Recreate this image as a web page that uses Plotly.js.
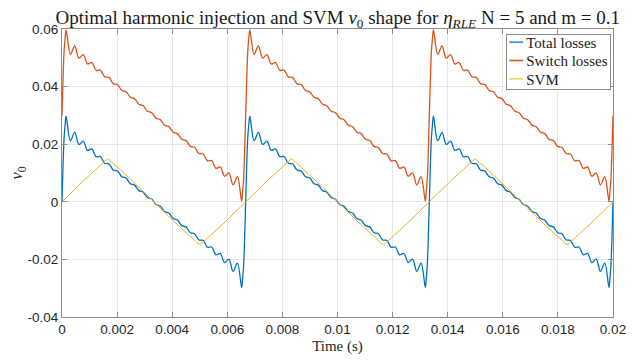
<!DOCTYPE html>
<html>
<head>
<meta charset="utf-8">
<script src="https://cdn.plot.ly/plotly-3.0.1.min.js"></script>
<style>
  html, body { margin: 0; padding: 0; background: #fff; }
  #chart { width: 641px; height: 360px; }
</style>
</head>
<body>
<div id="chart"></div>
<script>
// Time samples (ms)
const timeMs = [
  0, 0.0375, 0.075, 0.1125,
  0.150, 0.305, 0.461, 0.616, 0.772, 0.927, 1.082, 1.238, 1.393, 1.549, 1.704, 1.859, 2.015, 2.170,
  2.326, 2.481, 2.636, 2.792, 2.947, 3.103, 3.258, 3.413, 3.569, 3.724, 3.880, 4.035, 4.190, 4.346,
  4.501, 4.657, 4.812, 4.967, 5.123, 5.278, 5.434, 5.589, 5.744, 5.900, 6.055, 6.211, 6.366, 6.521,
  6.554, 6.592, 6.629, 6.667, 6.704, 6.742, 6.779,
  6.817, 6.972, 7.128, 7.283, 7.439, 7.594, 7.749, 7.905, 8.060, 8.216, 8.371, 8.526, 8.682, 8.837,
  8.993, 9.148, 9.303, 9.459, 9.614, 9.770, 9.925, 10.080, 10.236, 10.391, 10.547, 10.702, 10.857, 11.013,
  11.168, 11.324, 11.479, 11.634, 11.790, 11.945, 12.101, 12.256, 12.411, 12.567, 12.722, 12.878, 13.033, 13.188,
  13.221, 13.258, 13.296, 13.333, 13.371, 13.408, 13.446,
  13.483, 13.638, 13.794, 13.949, 14.105, 14.260, 14.415, 14.571, 14.726, 14.882, 15.037, 15.192, 15.348, 15.503,
  15.659, 15.814, 15.969, 16.125, 16.280, 16.436, 16.591, 16.746, 16.902, 17.057, 17.213, 17.368, 17.523, 17.679,
  17.834, 17.990, 18.145, 18.300, 18.456, 18.611, 18.767, 18.922, 19.077, 19.233, 19.388, 19.544, 19.699, 19.854,
  19.888, 19.925, 19.963, 20.000
];

const totalLosses = [
  0, 0.0125, 0.0221, 0.0266,
  0.02973, 0.02122, 0.0241, 0.0199, 0.02108, 0.01787, 0.01836, 0.01564, 0.01573, 0.01337, 0.01321, 0.01104, 0.01071, 0.00867,
  0.00824, 0.00629, 0.00579, 0.00388, 0.00334, 0.00147, 0.00091, -0.00094, -0.00151, -0.00338, -0.00392, -0.00582, -0.00632, -0.00828,
  -0.00871, -0.01075, -0.01107, -0.01324, -0.01341, -0.01577, -0.01569, -0.0184, -0.0179, -0.02112, -0.01993, -0.02415, -0.02126, -0.02976,
  -0.0266, -0.0221, -0.0125, 0, 0.0125, 0.0221, 0.0266,
  0.02973, 0.02122, 0.0241, 0.0199, 0.02108, 0.01787, 0.01836, 0.01564, 0.01573, 0.01337, 0.01321, 0.01104, 0.01071, 0.00867,
  0.00824, 0.00629, 0.00579, 0.00388, 0.00334, 0.00147, 0.00091, -0.00094, -0.00151, -0.00338, -0.00392, -0.00582, -0.00632, -0.00828,
  -0.00871, -0.01075, -0.01107, -0.01324, -0.01341, -0.01577, -0.01569, -0.0184, -0.0179, -0.02112, -0.01993, -0.02415, -0.02126, -0.02976,
  -0.0266, -0.0221, -0.0125, 0, 0.0125, 0.0221, 0.0266,
  0.02973, 0.02122, 0.0241, 0.0199, 0.02108, 0.01787, 0.01836, 0.01564, 0.01573, 0.01337, 0.01321, 0.01104, 0.01071, 0.00867,
  0.00824, 0.00629, 0.00579, 0.00388, 0.00334, 0.00147, 0.00091, -0.00094, -0.00151, -0.00338, -0.00392, -0.00582, -0.00632, -0.00828,
  -0.00871, -0.01075, -0.01107, -0.01324, -0.01341, -0.01577, -0.01569, -0.0184, -0.0179, -0.02112, -0.01993, -0.02415, -0.02126, -0.02976,
  -0.0266, -0.0221, -0.0125, 0
];

const switchLosses = [
  0.03, 0.0425, 0.0521, 0.0566,
  0.05973, 0.05122, 0.0541, 0.0499, 0.05108, 0.04787, 0.04836, 0.04564, 0.04573, 0.04337, 0.04321, 0.04104, 0.04071, 0.03867,
  0.03824, 0.03629, 0.03579, 0.03388, 0.03334, 0.03147, 0.03091, 0.02906, 0.02849, 0.02662, 0.02608, 0.02418, 0.02368, 0.02172,
  0.02129, 0.01925, 0.01893, 0.01676, 0.01659, 0.01423, 0.01431, 0.0116, 0.0121, 0.00888, 0.01007, 0.00585, 0.00874, 0.00024,
  0.0034, 0.0079, 0.0175, 0.03, 0.0425, 0.0521, 0.0566,
  0.05973, 0.05122, 0.0541, 0.0499, 0.05108, 0.04787, 0.04836, 0.04564, 0.04573, 0.04337, 0.04321, 0.04104, 0.04071, 0.03867,
  0.03824, 0.03629, 0.03579, 0.03388, 0.03334, 0.03147, 0.03091, 0.02906, 0.02849, 0.02662, 0.02608, 0.02418, 0.02368, 0.02172,
  0.02129, 0.01925, 0.01893, 0.01676, 0.01659, 0.01423, 0.01431, 0.0116, 0.0121, 0.00888, 0.01007, 0.00585, 0.00874, 0.00024,
  0.0034, 0.0079, 0.0175, 0.03, 0.0425, 0.0521, 0.0566,
  0.05973, 0.05122, 0.0541, 0.0499, 0.05108, 0.04787, 0.04836, 0.04564, 0.04573, 0.04337, 0.04321, 0.04104, 0.04071, 0.03867,
  0.03824, 0.03629, 0.03579, 0.03388, 0.03334, 0.03147, 0.03091, 0.02906, 0.02849, 0.02662, 0.02608, 0.02418, 0.02368, 0.02172,
  0.02129, 0.01925, 0.01893, 0.01676, 0.01659, 0.01423, 0.01431, 0.0116, 0.0121, 0.00888, 0.01007, 0.00585, 0.00874, 0.00024,
  0.0034, 0.0079, 0.0175, 0.03
];

const svmTimeMs = [0, 0.833, 1.667, 2.5, 3.333, 4.167, 5.0, 5.833, 6.667, 7.5, 8.333, 9.167, 10.0,
                   10.833, 11.667, 12.5, 13.333, 14.167, 15.0, 15.833, 16.667, 17.5, 18.333, 19.167, 20.0];
const svm = [0, 0.00776, 0.015, 0.00776, 0, -0.00776, -0.015, -0.00776, 0, 0.00776, 0.015, 0.00776, 0,
             -0.00776, -0.015, -0.00776, 0, 0.00776, 0.015, 0.00776, 0, -0.00776, -0.015, -0.00776, 0];

const seriesNames = ['Total losses', 'Switch losses', 'SVM'];
const seriesColors = ['#0072BD', '#D95319', '#EDB120'];

const xTickVals = [0, 0.002, 0.004, 0.006, 0.008, 0.01, 0.012, 0.014, 0.016, 0.018, 0.02];
const xTickText = ['0', '0.002', '0.004', '0.006', '0.008', '0.01', '0.012', '0.014', '0.016', '0.018', '0.02'];
const yTickVals = [-0.04, -0.02, 0, 0.02, 0.04, 0.06];
const yTickText = ['-0.04', '-0.02', '0', '0.02', '0.04', '0.06'];

const toSec = a => a.map(t => t / 1000);
const tSec = toSec(timeMs);
const tSvm = toSec(svmTimeMs);

const traces = [
  { x: tSec, y: totalLosses, name: seriesNames[0], type: 'scatter', mode: 'lines',
    line: { color: seriesColors[0], width: 1.3, shape: 'spline', smoothing: 1 } },
  { x: tSec, y: switchLosses, name: seriesNames[1], type: 'scatter', mode: 'lines',
    line: { color: seriesColors[1], width: 1.3, shape: 'spline', smoothing: 1 } },
  { x: tSvm, y: svm, name: seriesNames[2], type: 'scatter', mode: 'lines',
    line: { color: seriesColors[2], width: 1.0 } }
];

const axisCommon = {
  showgrid: true, gridcolor: '#e6e6e6', gridwidth: 1,
  zeroline: false, showline: true, linecolor: '#8c8c8c', linewidth: 1,
  mirror: 'ticks', ticks: 'inside', ticklen: 5, tickcolor: '#8c8c8c',
  tickfont: { family: 'Liberation Sans, Arial, sans-serif', size: 13.5, color: '#262626' },
  fixedrange: true
};

const layout = {
  width: 641, height: 360,
  margin: { l: 62, r: 28, t: 29, b: 43 },
  paper_bgcolor: '#ffffff', plot_bgcolor: '#ffffff',
  showlegend: true,
  title: {
    text: 'Optimal harmonic injection and SVM <i>v</i><sub>0</sub> shape for <i>η</i><sub><i>RLE</i></sub> N = 5 and m = 0.1',
    font: { family: 'Liberation Serif, serif', size: 19, color: '#1a1a1a' },
    x: 0.527, xanchor: 'center', y: 0.953, yanchor: 'middle'
  },
  xaxis: Object.assign({}, axisCommon, {
    range: [0, 0.02], tickvals: xTickVals, ticktext: xTickText,
    title: { text: 'Time (s)', font: { family: 'Liberation Serif, serif', size: 15, color: '#262626' }, standoff: 4 }
  }),
  yaxis: Object.assign({}, axisCommon, {
    range: [-0.04, 0.06], tickvals: yTickVals, ticktext: yTickText,
    title: { text: '<i>v</i><sub>0</sub>', font: { family: 'Liberation Serif, serif', size: 17, color: '#262626' }, standoff: 0 }
  }),
  legend: {
    x: 0.9933, xanchor: 'right', y: 0.985, yanchor: 'top',
    bgcolor: '#ffffff', bordercolor: '#8c8c8c', borderwidth: 1,
    font: { family: 'Liberation Serif, serif', size: 15, color: '#1a1a1a' },
    tracegroupgap: 0, itemwidth: 30
  }
};

Plotly.newPlot('chart', traces, layout, { staticPlot: true, displayModeBar: false }).then(gd => {
  // MATLAB-like compact legend: short line samples, tight rows
  const boxRight = 609.5, boxTop = 33.5, rowGap = 18.4, firstRow = 8.6, lineStart = 2, lineLen = 14, textX = 19;
  const items = Array.from(gd.querySelectorAll('g.legend .traces'));
  let maxRight = 0;
  items.forEach((g, i) => {
    const p = g.querySelector('path.js-line');
    if (p) p.setAttribute('d', 'M' + lineStart + ',0h' + lineLen);
    const t = g.querySelector('text.legendtext');
    if (t) {
      t.setAttribute('x', textX);
      maxRight = Math.max(maxRight, textX + t.getComputedTextLength());
    }
    g.setAttribute('transform', 'translate(1,' + (firstRow + i * rowGap) + ')');
  });
  const w = maxRight + 3;
  const h = firstRow + (items.length - 1) * rowGap + 10.2;
  const bg = gd.querySelector('g.legend rect.bg');
  if (bg) { bg.setAttribute('width', w); bg.setAttribute('height', h); }
  const lg = gd.querySelector('g.legend');
  if (lg) lg.setAttribute('transform', 'translate(' + (boxRight - w) + ',' + boxTop + ')');
  const sb = gd.querySelector('g.legend .scrollbox');
  if (sb) sb.setAttribute('transform', 'translate(0,0)');
});
</script>
</body>
</html>
